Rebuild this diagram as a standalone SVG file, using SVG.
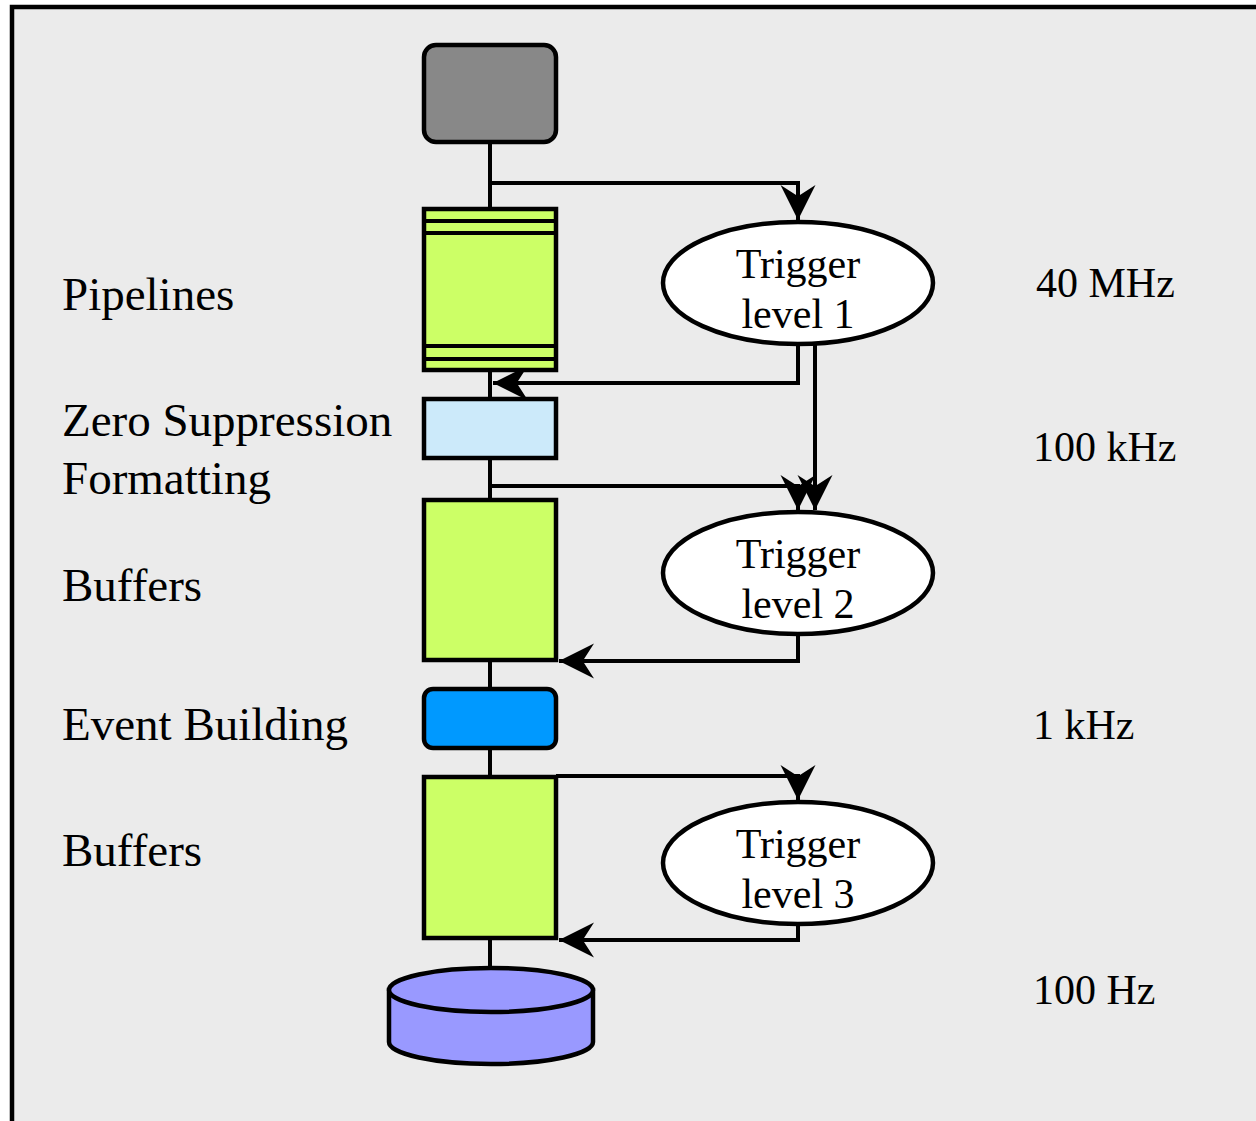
<svg xmlns="http://www.w3.org/2000/svg" width="1256" height="1121" viewBox="0 0 1256 1121">
<style>
.n{stroke:#000;stroke-width:4.5}
.c{fill:none;stroke:#000;stroke-width:4}
.lbl{font-family:"Liberation Serif","Times New Roman",serif;font-size:47px;fill:#000}
.rate{font-family:"Liberation Serif","Times New Roman",serif;font-size:42px;fill:#000}
.tt{font-family:"Liberation Serif","Times New Roman",serif;font-size:42px;fill:#000;text-anchor:middle}
</style>
<defs>
<marker id="ah" markerUnits="userSpaceOnUse" markerWidth="40" markerHeight="40" viewBox="-30 -16 32 32" refX="0" refY="0" orient="auto">
<path d="M0,0 L-28,-14 L-19,0 L-28,14 Z" fill="#000"/>
</marker>
</defs>
<rect x="0" y="0" width="1256" height="1121" fill="#fff"/>
<rect id="panel" x="12" y="7" width="1270" height="1140" fill="#EBEBEB" stroke="#000" stroke-width="4.5"/>
<g id="connectors">
<line class="c" x1="490" y1="142" x2="490" y2="209"/>
<line class="c" x1="490" y1="370" x2="490" y2="399"/>
<line class="c" x1="490" y1="458" x2="490" y2="500"/>
<line class="c" x1="490" y1="660" x2="490" y2="689"/>
<line class="c" x1="490" y1="748" x2="490" y2="776"/>
<line class="c" x1="490" y1="938" x2="490" y2="968"/>
<path class="c" d="M490,183 H798 V220" marker-end="url(#ah)"/>
<path class="c" d="M798,345 V383 H493" marker-end="url(#ah)"/>
<path class="c" d="M815,345 V510" marker-end="url(#ah)"/>
<path class="c" d="M490,486 H798 V510" marker-end="url(#ah)"/>
<path class="c" d="M798,634 V661 H559" marker-end="url(#ah)"/>
<path class="c" d="M556,776 H798 V800" marker-end="url(#ah)"/>
<path class="c" d="M798,924 V940 H559" marker-end="url(#ah)"/>
</g>
<g id="detector"><rect class="n" x="424" y="45" width="132" height="97" rx="12" fill="#888888"/></g>
<g id="pipelines">
<rect class="n" x="424" y="209" width="132" height="161" fill="#CCFF66"/>
<line class="c" x1="424" y1="221" x2="556" y2="221"/>
<line class="c" x1="424" y1="233" x2="556" y2="233"/>
<line class="c" x1="424" y1="346" x2="556" y2="346"/>
<line class="c" x1="424" y1="359" x2="556" y2="359"/>
</g>
<g id="zerosup"><rect class="n" x="424" y="399" width="132" height="59" fill="#CCEAFA"/></g>
<g id="buffers1"><rect class="n" x="424" y="500" width="132" height="160" fill="#CCFF66"/></g>
<g id="eventbuilding"><rect class="n" x="424" y="689" width="132" height="59" rx="9" fill="#0099FF"/></g>
<g id="buffers2"><rect class="n" x="424" y="777" width="132" height="161" fill="#CCFF66"/></g>
<g id="storage">
<path class="n" d="M389,990 V1042 A102,22 0 0 0 593,1042 V990 Z" fill="#9999FF"/>
<ellipse class="n" cx="491" cy="990" rx="102" ry="22" fill="#9999FF"/>
</g>
<g id="trigger1">
<ellipse class="n" cx="798" cy="283" rx="135" ry="61" fill="#fff"/>
<text class="tt" x="798" y="278">Trigger</text>
<text class="tt" x="798" y="328">level 1</text>
</g>
<g id="trigger2">
<ellipse class="n" cx="798" cy="573" rx="135" ry="61" fill="#fff"/>
<text class="tt" x="798" y="568">Trigger</text>
<text class="tt" x="798" y="618">level 2</text>
</g>
<g id="trigger3">
<ellipse class="n" cx="798" cy="863" rx="135" ry="61" fill="#fff"/>
<text class="tt" x="798" y="858">Trigger</text>
<text class="tt" x="798" y="908">level 3</text>
</g>
<g id="labels">
<text class="lbl" x="62" y="310">Pipelines</text>
<text class="lbl" x="62" y="436">Zero Suppression</text>
<text class="lbl" x="62" y="494">Formatting</text>
<text class="lbl" x="62" y="601">Buffers</text>
<text class="lbl" x="62" y="740">Event Building</text>
<text class="lbl" x="62" y="866">Buffers</text>
<text class="rate" x="1036" y="297">40 MHz</text>
<text class="rate" x="1033" y="461">100 kHz</text>
<text class="rate" x="1033" y="739">1 kHz</text>
<text class="rate" x="1033" y="1004">100 Hz</text>
</g>
</svg>
